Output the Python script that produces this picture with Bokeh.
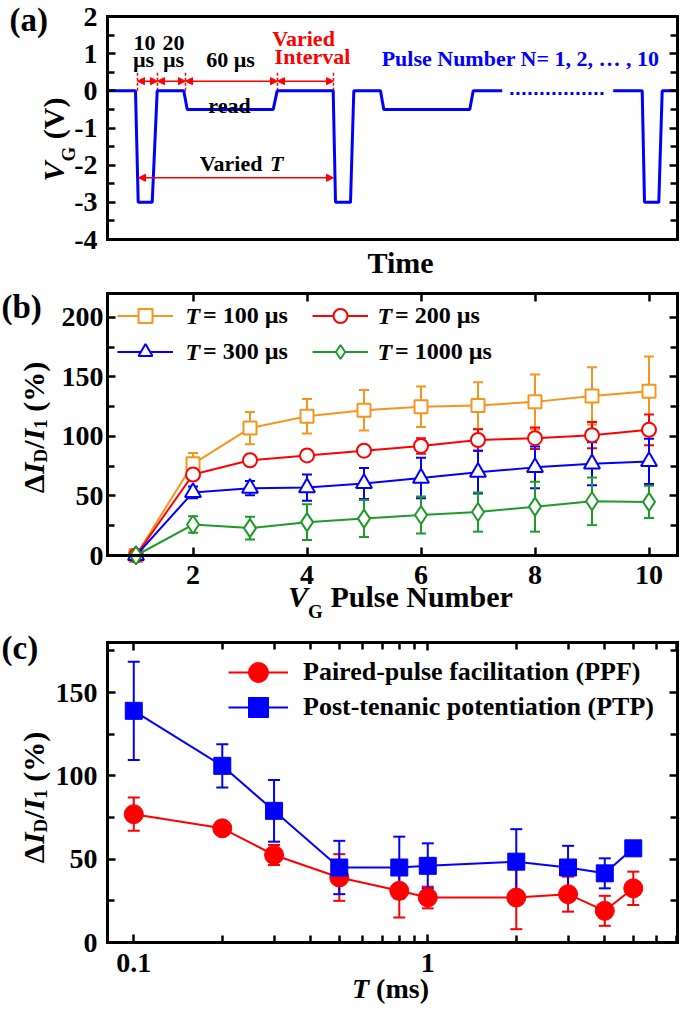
import math
from bokeh.plotting import figure
from bokeh.layouts import column
from bokeh.models import (Range1d, FixedTicker, LinearAxis, LogAxis, Label, Legend, LegendItem,
                          ColumnDataSource, Whisker, TeeHead, Arrow, NormalHead,
                          CustomJSTickFormatter)
from bokeh.embed import file_html
from bokeh.resources import INLINE

# ---------------- data ----------------
# (a) gate-voltage waveform (time in arbitrary units)
wave_t = [0, 28, 30.7, 44.7, 49.7, 76.3, 79.7, 165.7, 169.7, 225.7, 228, 243, 246.3,
          273, 276.3, 362.3, 365.7, 394.7]
wave_v = [0, 0, -3, -3, 0, 0, -0.5, -0.5, 0, 0, -3, -3, 0, 0, -0.5, -0.5, 0, 0]
gap_t = [403, 496.3]
gap_v = [-0.07, -0.07]
wave2_t = [505.7, 534.7, 537, 551.3, 554.7, 570]
wave2_v = [0, 0, -3, -3, 0, 0]
edge_t = [30, 50, 78, 170, 226]          # interval boundaries
edge_top_v = 0.5
interval_arrow_v = 0.26
period_t = [31, 226]                     # "Varied T"
period_v = -2.34

a_xlim = [0, 570]
a_ylim = [-4, 2]
a_yticks = [-4, -3, -2, -1, 0, 1, 2]
a_yminor = [-3.5, -2.5, -1.5, -0.5, 0.5, 1.5]

# (b) pulse-number dependence
pulse_number = [1, 2, 3, 4, 5, 6, 7, 8, 9, 10]
dI_T100 = [0, 77, 107, 117, 122, 125, 126, 129, 134, 138]
err_T100 = [0, 9, 13.5, 14.5, 17, 17, 19.5, 23, 24, 29]
dI_T200 = [0, 68, 80, 84, 88, 92, 97, 98.5, 101, 105.5]
err_T200 = [0, 3, 3.5, 3.5, 4, 6.5, 9, 9, 11, 13]
dI_T300 = [0, 53, 56.5, 57, 60.5, 65, 70, 74, 77, 79]
err_T300 = [0, 5, 6, 11, 13, 17, 18, 17.5, 18, 19]
dI_T1000 = [0, 26, 23, 28, 31, 34, 36.5, 41, 45.5, 45]
err_T1000 = [0, 7, 9.5, 15, 15.5, 15.5, 16.5, 21, 20, 13.5]

b_xlim = [0.5, 10.5]
b_ylim = [0, 220]
b_xticks = [2, 4, 6, 8, 10]
b_yticks = [0, 50, 100, 150, 200]
b_yminor = [25, 75, 125, 175]

# (c) interval dependence
T_ms = [0.1, 0.2, 0.3, 0.5, 0.8, 1, 2, 3, 4, 5]
ppf = [77, 68.5, 52.5, 39, 31, 27, 27, 29, 19, 32.5]
ppf_err = [10, 2, 6, 14, 16, 6.5, 19, 10.5, 9, 10]
ptp = [139, 106, 79, 45, 45, 46, 48.5, 45, 41.5, 56.5]
ptp_err = [29.5, 13, 18.5, 16, 18.5, 13.5, 19.5, 13, 9, 3]

c_xlim = [0.0814, 7.07]
c_ylim = [0, 180]
c_xticks = [0.1, 1]
c_xminor = [0.2, 0.3, 0.4, 0.5, 0.6, 0.7, 0.8, 0.9, 2, 3, 4, 5, 6, 7]
c_yticks = [0, 50, 100, 150]
c_yminor = [25, 75, 125, 175]

# ---------------- style ----------------
FONT = "Liberation Serif"
ORANGE = "#F7941D"
RED = "#FF0000"
BLUE = "#0000FF"
GREEN = "#1E9A28"
W = 685
TICK_FS = "28px"
PANEL_FS = 33
BF = 0.32          # compensation for alphabetic-baseline placement

WB = {" ": 250, "(": 333, ")": 333, "%": 1000, "/": 278, "-": 333, ".": 250, ",": 250,
      "=": 570, "\u2026": 1000, "\u0394": 640, "\u00b5": 556,
      "0": 500, "1": 500, "2": 500, "3": 500, "4": 500, "5": 500, "6": 500, "7": 500, "8": 500, "9": 500,
      "D": 722, "G": 778, "I": 389, "N": 722, "P": 611, "T": 667, "V": 722,
      "a": 500, "b": 556, "c": 444, "d": 556, "e": 444, "i": 278, "l": 278, "m": 833, "n": 556,
      "r": 444, "s": 389, "u": 556, "v": 500, "t": 333}
WBI = {"I": 389, "T": 611, "V": 667}


def tw(s, size, italic=False):
    tot = 0
    for ch in s:
        if italic and ch in WBI:
            tot += WBI[ch]
        else:
            tot += WB.get(ch, 500)
    return tot * size / 1000.0


def style_axis(ax, ticks, minor=(), labels=True, standoff=8):
    ax.ticker = FixedTicker(ticks=list(ticks), minor_ticks=list(minor))
    ax.axis_line_width = 3
    ax.axis_line_color = "black"
    ax.axis_line_cap = "square"
    ax.major_tick_in = 8
    ax.major_tick_out = 0
    ax.minor_tick_in = 7
    ax.minor_tick_out = 0
    ax.major_tick_line_width = 2.5
    ax.minor_tick_line_width = 2.5
    if labels:
        ax.formatter = CustomJSTickFormatter(code="return tick.toString()")
        ax.major_label_text_font = FONT
        ax.major_label_text_font_style = "bold"
        ax.major_label_text_font_size = TICK_FS
        ax.major_label_text_color = "black"
        ax.major_label_standoff = standoff
    else:
        ax.formatter = CustomJSTickFormatter(code="return ''")
        ax.major_label_text_font_size = "1px"
        ax.major_label_standoff = 0


def rich(p, pieces, x, y, units="screen", angle=0.0, align="center", color="black"):
    total = sum(tw(t, s, it) for t, s, it, sh in pieces)
    off = {"center": -total / 2.0, "left": 0.0, "right": -total}[align]
    main = pieces[0][1]
    for t, s, it, sh in pieces:
        stripped = t.lstrip(" ")
        off += tw(t[:len(t) - len(stripped)], s, it)
        if angle == 0:
            xo, yo = off, -sh + BF * main
        else:
            xo, yo = sh - BF * main, off
        p.add_layout(Label(x=x, y=y, x_units=units, y_units=units, x_offset=xo, y_offset=yo,
                           text=stripped, angle=angle, text_align="left",
                           text_baseline="alphabetic", text_font=FONT,
                           text_font_size=f"{s}px",
                           text_font_style="bold italic" if it else "bold",
                           text_color=color))
        off += tw(stripped, s, it)


def text(p, s, x, y, size=22, color="black", align="center"):
    p.add_layout(Label(x=x, y=y, y_offset=BF * size, text=s, text_align=align,
                       text_baseline="alphabetic", text_font=FONT,
                       text_font_size=f"{size}px", text_font_style="bold",
                       text_color=color))


class Panel:
    def __init__(self, top, height, box, xlim, ylim, log=False):
        self.top, self.height = top, height
        bx0, by0, bx1, by1 = box
        ly0, ly1 = by0 - top, by1 - top
        a0, a1 = (math.log10(xlim[0]), math.log10(xlim[1])) if log else xlim
        upp = (a1 - a0) / (bx1 - bx0)
        xs, xe = a0 - bx0 * upp, a1 + (W - bx1) * upp
        if log:
            xs, xe = 10 ** xs, 10 ** xe
        uppy = (ylim[1] - ylim[0]) / (ly1 - ly0)
        ye = ylim[1] + ly0 * uppy
        ys = ylim[0] - (height - ly1) * uppy
        p = figure(width=W, height=height, x_range=Range1d(xs, xe), y_range=Range1d(ys, ye),
                   x_axis_type="log" if log else "linear", output_backend="svg",
                   toolbar_location=None, min_border_left=0, min_border_right=0,
                   min_border_top=0, min_border_bottom=0)
        p.xgrid.visible = False
        p.ygrid.visible = False
        p.outline_line_color = None
        p.background_fill_color = "white"
        self.p = p
        self.xlim, self.ylim, self.log = xlim, ylim, log

    def sy(self, py):
        return self.height - (py - self.top)

    def axes(self, xticks, xminor, yticks, yminor, xlabels=True, top_ticks=True,
             xstand=10, ystand=9):
        p = self.p
        bottom, left = p.xaxis[0], p.yaxis[0]
        style_axis(bottom, xticks, xminor, labels=xlabels, standoff=xstand)
        bottom.fixed_location = self.ylim[0]
        bottom.bounds = tuple(self.xlim)
        style_axis(left, yticks, yminor, standoff=ystand)
        left.fixed_location = self.xlim[0]
        left.bounds = tuple(self.ylim)
        right = LinearAxis()
        style_axis(right, yticks, yminor, labels=False)
        right.fixed_location = self.xlim[1]
        right.bounds = tuple(self.ylim)
        p.add_layout(right, "right")
        top = LogAxis() if self.log else LinearAxis()
        if top_ticks:
            style_axis(top, xticks, xminor, labels=False)
        else:
            style_axis(top, [], [], labels=False)
        top.fixed_location = self.ylim[1]
        top.bounds = tuple(self.xlim)
        p.add_layout(top, "above")

    def label(self, s, px, py, size=30, color="black", align="left", style="bold",
              baseline="alphabetic"):
        yo = BF * size if baseline == "alphabetic" else 0
        self.p.add_layout(Label(x=px, y=self.sy(py), x_units="screen", y_units="screen",
                                y_offset=yo, text=s, text_align=align,
                                text_baseline=baseline, text_font=FONT,
                                text_font_size=f"{size}px", text_font_style=style,
                                text_color=color))

    def rich(self, pieces, px, py, angle=0.0):
        rich(self.p, pieces, px, self.sy(py), units="screen", angle=angle)

    def legend(self, items, gx, row_centers, glyph_w, glyph_h, spacing, standoff, fs):
        top = row_centers[0] - glyph_h / 2
        bottom = top + len(items) * glyph_h + (len(items) - 1) * spacing
        lg = Legend(items=items, location=(gx, self.sy(bottom)), glyph_width=glyph_w,
                    glyph_height=glyph_h, label_height=glyph_h, spacing=spacing, padding=0,
                    margin=0, label_standoff=standoff, background_fill_alpha=0,
                    border_line_color=None, label_text_font=FONT,
                    label_text_font_style="bold", label_text_font_size=f"{fs}px",
                    label_text_color="black")
        self.p.add_layout(lg)


delta_label = [("\u0394", 30, False, 0), ("I", 30, True, 0), ("D", 19, False, 7),
               ("/", 30, False, 0), ("I", 30, True, 0), ("1", 19, False, 7),
               (" (%)", 30, False, 0)]

# ================= (a) =================
A = Panel(0, 280, (107, 16, 677, 239), a_xlim, a_ylim)
pa = A.p
A.axes([], [], a_yticks, a_yminor, xlabels=False, top_ticks=False, ystand=10)

edge_src = ColumnDataSource(dict(x=edge_t, y0=[0] * len(edge_t), y1=[edge_top_v] * len(edge_t)))
pa.segment(x0="x", y0="y0", x1="x", y1="y1", source=edge_src, line_color=RED,
           line_width=1.5, line_dash="3 2")
arr_src = ColumnDataSource(dict(x0=edge_t[:-1], x1=edge_t[1:],
                                y=[interval_arrow_v] * (len(edge_t) - 1)))
pa.add_layout(Arrow(x_start="x0", y_start="y", x_end="x1", y_end="y", source=arr_src,
                    line_color=RED, line_width=1.5,
                    start=NormalHead(size=7, fill_color=RED, line_color=RED, line_width=1),
                    end=NormalHead(size=7, fill_color=RED, line_color=RED, line_width=1)))
pa.add_layout(Arrow(x_start=period_t[0], y_start=period_v, x_end=period_t[1], y_end=period_v,
                    line_color=RED, line_width=1.5,
                    start=NormalHead(size=7, fill_color=RED, line_color=RED, line_width=1),
                    end=NormalHead(size=7, fill_color=RED, line_color=RED, line_width=1)))

pa.line(wave_t, wave_v, line_color=BLUE, line_width=3)
pa.line(gap_t, gap_v, line_color=BLUE, line_width=3, line_dash="3 3")
pa.line(wave2_t, wave2_v, line_color=BLUE, line_width=3)

text(pa, "10", 37, 1.085)
text(pa, "\u00b5s", 36, 0.655)
text(pa, "20", 66, 1.085)
text(pa, "\u00b5s", 66, 0.655)
text(pa, "60 \u00b5s", 123, 0.655)
text(pa, "read", 122, -0.58)
text(pa, "Varied", 196, 1.22, color=RED)
text(pa, "Interval", 205, 0.735, color=RED)
text(pa, "Pulse Number N= 1, 2, \u2026 , 10", 413, 0.68, color=BLUE)
rich(pa, [("Varied", 22, False, 0), (" T", 22, True, 0)], 134, -2.14, units="data")

A.label("(a)", 9, 30, size=PANEL_FS)
A.label("Time", 400, 272, size=30, align="center")
A.rich([("V", 30, True, 0), ("G", 19, False, 15), (" (V)", 30, False, 0)], 63, 139,
       angle=math.pi / 2)

# ================= (b) =================
B = Panel(280, 345, (107, 293, 677, 555), b_xlim, b_ylim)
pb = B.p
B.axes(b_xticks, [], b_yticks, b_yminor, xstand=10, ystand=4)

series_b = [
    (dI_T100, err_T100, ORANGE, "square", 13),
    (dI_T200, err_T200, RED, "circle", 14),
    (dI_T300, err_T300, BLUE, "triangle", 16),
    (dI_T1000, err_T1000, GREEN, "diamond", 18),
]
b_labels = ["100 \u00b5s", "200 \u00b5s", "300 \u00b5s", "1000 \u00b5s"]
b_items = []
for vals, errs, col, mk, sz in series_b:
    lr = pb.line(pulse_number, vals, line_color=col, line_width=2)
    idx = [i for i, e in enumerate(errs) if e > 0]
    wsrc = ColumnDataSource(dict(x=[pulse_number[i] for i in idx],
                                 upper=[vals[i] + errs[i] for i in idx],
                                 lower=[vals[i] - errs[i] for i in idx]))
    pb.add_layout(Whisker(source=wsrc, base="x", upper="upper", lower="lower",
                          dimension="height", line_color=col, line_width=2, level="underlay",
                          upper_head=TeeHead(size=10, line_color=col, line_width=2),
                          lower_head=TeeHead(size=10, line_color=col, line_width=2)))
    sr = pb.scatter(pulse_number, vals, marker=mk, size=sz, line_color=col,
                    fill_color="white", line_width=2)
    b_items.append([lr, sr])

rows_b = [315, 351]                       # page y of legend rows
for cols, gx, stand in [((0, 2), 117, 12), ((1, 3), 312, 9)]:
    items = [LegendItem(label="\u00a0\u00a0\u00a0= " + b_labels[k], renderers=b_items[k])
             for k in cols]
    B.legend(items, gx, rows_b, 56, 35, 1, stand, 24)
    for rc in rows_b:
        B.label("T", gx + 56 + stand, rc, size=24, style="bold italic", baseline="middle")

B.label("(b)", 1, 317, size=PANEL_FS)
B.rich([("V", 30, True, 0), ("G", 19, False, 15), (" Pulse Number", 30, False, 0)],
       400, 606)
B.rich(delta_label, 43, 427, angle=math.pi / 2)

# ================= (c) =================
C = Panel(625, 386, (107, 642, 677, 942), c_xlim, c_ylim, log=True)
pc = C.p
C.axes(c_xticks, c_xminor, c_yticks, c_yminor, xstand=11, ystand=10)

c_items = []
for vals, errs, col, mk, sz in [(ppf, ppf_err, RED, "circle", 19),
                                (ptp, ptp_err, BLUE, "square", 17)]:
    lr = pc.line(T_ms, vals, line_color=col, line_width=2)
    wsrc = ColumnDataSource(dict(x=T_ms, upper=[v + e for v, e in zip(vals, errs)],
                                 lower=[v - e for v, e in zip(vals, errs)]))
    pc.add_layout(Whisker(source=wsrc, base="x", upper="upper", lower="lower",
                          dimension="height", line_color=col, line_width=2, level="underlay",
                          upper_head=TeeHead(size=12, line_color=col, line_width=2),
                          lower_head=TeeHead(size=12, line_color=col, line_width=2)))
    sr = pc.scatter(T_ms, vals, marker=mk, size=sz, line_color=col, fill_color=col)
    c_items.append([lr, sr])

c_labels = ["Paired-pulse facilitation (PPF)", "Post-tenanic potentiation (PTP)"]
rows_c = [671.7, 706.7]
for k in range(2):
    C.legend([LegendItem(label=c_labels[k], renderers=c_items[k])], 228, [rows_c[k]],
             60, 50, 0, 15, 26)

C.label("(c)", 1, 658, size=PANEL_FS)
C.rich([("T", 28, True, 0), (" (ms)", 28, False, 0)], 390, 997)
C.rich(delta_label, 43, 797, angle=math.pi / 2)

layout = column(pa, pb, pc)
open("out.html", "w").write(file_html(layout, INLINE))
